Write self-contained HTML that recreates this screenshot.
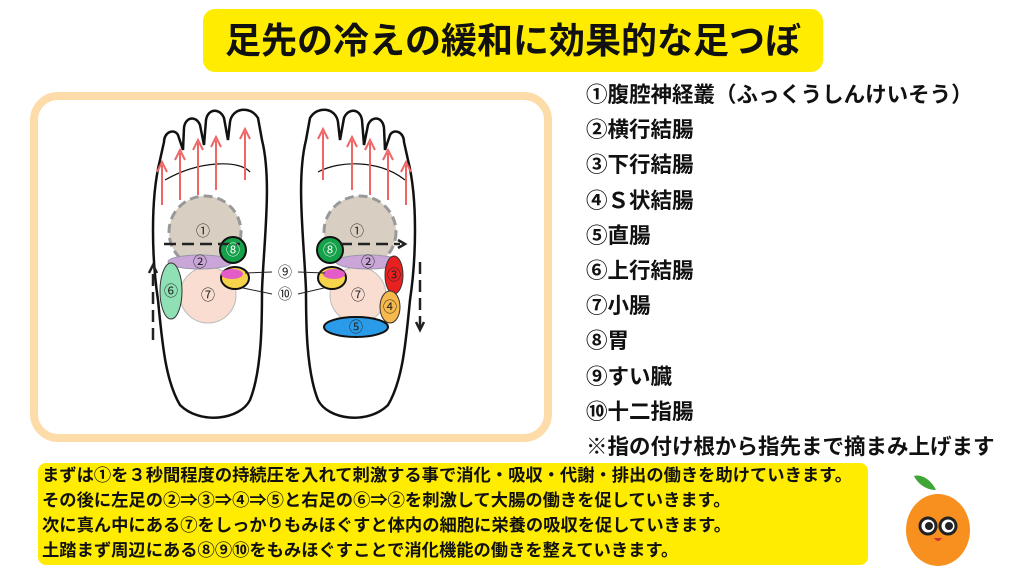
<!DOCTYPE html>
<html><head><meta charset="utf-8"><style>
body{margin:0;width:1024px;height:576px;background:#fff;position:relative;overflow:hidden;font-family:"Liberation Sans","Noto Sans CJK JP",sans-serif;font-weight:bold;color:#111}
.title{position:absolute;left:203px;top:9px;width:620px;height:63px;background:#ffec00;border-radius:12px;text-align:center;line-height:63px;font-size:36px;white-space:nowrap}
.panel{position:absolute;left:30px;top:92px;width:506px;height:334px;border:8px solid #fddcaa;border-radius:28px;background:#fff}
.list{position:absolute;left:586px;top:78px;font-size:21.5px;line-height:35.2px;white-space:nowrap}
.box{position:absolute;left:38px;top:463px;width:830px;height:102px;background:#ffec00;border-radius:8px;font-size:17.3px;line-height:25px;padding:0 0 0 4px;box-sizing:border-box;padding-top:0px;white-space:nowrap}
</style></head><body>
<div class="title">足先の冷えの緩和に効果的な足つぼ</div>
<div class="panel"></div>
<svg style="position:absolute;left:0;top:0" width="1024" height="576">
<g fill="#fff" stroke="#111" stroke-width="2.5">
<path d="M160,160 C150,200 152,260 158,300 C162,340 165,380 180,405 C200,425 240,420 250,400 C262,370 262,320 262,290 C264,240 272,180 262,140 L258,118 C250,105 232,108 230,122 L228,140 L224,118 C220,108 208,108 206,120 L204,145 L200,125 C196,115 185,117 184,128 L183,150 L178,135 C174,128 164,132 164,142 Z"/>
<path d="M408,160 C418,200 416,260 410,300 C406,340 403,380 388,405 C368,425 328,420 318,400 C306,370 306,320 306,290 C304,240 296,180 306,140 L310,118 C318,105 336,108 338,122 L340,140 L344,118 C348,108 360,108 362,120 L364,145 L368,125 C372,115 383,117 384,128 L385,150 L390,135 C394,128 404,132 404,142 Z"/>
</g>
<g fill="none" stroke="#111" stroke-width="1.2">
<path d="M165,180 C200,160 240,160 250,172"/><path d="M318,172 C340,160 380,160 405,180"/>
</g>
<g stroke="#e66" stroke-width="2" fill="none">
<path d="M162,205 V165 M157,172 L162,162 L167,172"/><path d="M180,200 V153 M175,160 L180,150 L185,160"/><path d="M198,195 V143 M193,150 L198,140 L203,150"/><path d="M216,190 V140 M211,147 L216,137 L221,147"/><path d="M245,180 V132 M240,139 L245,129 L250,139"/>
<path d="M323,180 V132 M318,139 L323,129 L328,139"/><path d="M352,190 V140 M347,147 L352,137 L357,147"/><path d="M370,195 V143 M365,150 L370,140 L375,150"/><path d="M388,200 V153 M383,160 L388,150 L393,160"/><path d="M406,205 V165 M401,172 L406,162 L411,172"/>
</g>
<circle cx="205" cy="232" r="36" fill="#d8cfc2" stroke="#999" stroke-width="3" stroke-dasharray="9 5"/>
<circle cx="360" cy="232" r="36" fill="#d8cfc2" stroke="#999" stroke-width="3" stroke-dasharray="9 5"/>
<circle cx="208" cy="295" r="28" fill="#f9ddd0" stroke="#bbb"/>
<circle cx="358" cy="295" r="28" fill="#f9ddd0" stroke="#bbb"/>
<ellipse cx="200" cy="262" rx="32" ry="7" fill="#c9a5d8" stroke="#99a"/>
<ellipse cx="368" cy="262" rx="32" ry="7" fill="#c9a5d8" stroke="#99a"/>
<ellipse cx="171" cy="291" rx="11" ry="28" fill="#8fe0b4" stroke="#333"/>
<ellipse cx="394" cy="275" rx="9" ry="19" fill="#e82020" stroke="#333"/>
<ellipse cx="390" cy="307" rx="10" ry="16" fill="#f8b94c" stroke="#333"/>
<ellipse cx="356" cy="327" rx="32" ry="10" fill="#2a9be8" stroke="#111" stroke-width="2"/>
<circle cx="233" cy="250" r="13" fill="#15a04a" stroke="#111" stroke-width="2"/>
<circle cx="330" cy="250" r="13" fill="#15a04a" stroke="#111" stroke-width="2"/>
<ellipse cx="235" cy="278" rx="14" ry="11" fill="#f5d34a" stroke="#111" stroke-width="2"/>
<ellipse cx="232" cy="274" rx="11" ry="5" fill="#e45cc8"/>
<ellipse cx="332" cy="278" rx="14" ry="11" fill="#f5d34a" stroke="#111" stroke-width="2"/>
<ellipse cx="334" cy="274" rx="11" ry="5" fill="#e45cc8"/>
<g stroke="#222" stroke-width="2.5" fill="none">
<path d="M164,244 H240" stroke-dasharray="12 6"/><path d="M340,244 H400" stroke-dasharray="12 6"/>
<path d="M398,240 L405,244 L398,248"/>
<path d="M153,340 V270" stroke-dasharray="12 6"/><path d="M149,273 L153,265 L157,273"/>
<path d="M420,262 V330" stroke-dasharray="12 6"/><path d="M416,322 L420,330 L424,322"/>
</g>
<g stroke="#222" stroke-width="1" fill="none">
<path d="M245,273 L272,272 M298,272 L325,273 M243,288 L272,294 M298,294 L324,288"/>
</g>
<g font-size="14" font-weight="normal" text-anchor="middle" fill="#222">
<text x="203" y="236">①</text><text x="357" y="236">①</text>
<text x="233" y="255" fill="#fff">⑧</text><text x="330" y="255" fill="#fff">⑧</text>
<text x="200" y="267">②</text><text x="368" y="267">②</text>
<text x="208" y="300">⑦</text><text x="358" y="300">⑦</text>
<text x="171" y="296">⑥</text><text x="394" y="280">③</text><text x="390" y="312">④</text><text x="356" y="332">⑤</text>
<text x="285" y="277">⑨</text><text x="285" y="299">⑩</text>
</g>
</svg>
<div class="list">①腹腔神経叢（ふっくうしんけいそう）<br>②横行結腸<br>③下行結腸<br>④Ｓ状結腸<br>⑤直腸<br>⑥上行結腸<br>⑦小腸<br>⑧胃<br>⑨すい臓<br>⑩十二指腸<br>※指の付け根から指先まで摘まみ上げます</div>
<div class="box">まずは①を３秒間程度の持続圧を入れて刺激する事で消化・吸収・代謝・排出の働きを助けていきます。<br>その後に左足の②⇒③⇒④⇒⑤と右足の⑥⇒②を刺激して大腸の働きを促していきます。<br>次に真ん中にある⑦をしっかりもみほぐすと体内の細胞に栄養の吸収を促していきます。<br>土踏まず周辺にある⑧⑨⑩をもみほぐすことで消化機能の働きを整えていきます。</div>
<svg style="position:absolute;left:900px;top:468px" width="80" height="100">
<path d="M36,22 C30,10 20,6 14,8 C18,16 26,22 36,22Z" fill="#3fa535"/>
<ellipse cx="38" cy="62" rx="32" ry="36" fill="#f7901e"/>
<circle cx="28" cy="58" r="8" fill="#fff" stroke="#222" stroke-width="3"/><circle cx="48" cy="58" r="8" fill="#fff" stroke="#222" stroke-width="3"/>
<circle cx="29" cy="58" r="4" fill="#222"/><circle cx="49" cy="58" r="4" fill="#222"/>
<path d="M34,70 Q38,76 42,70" fill="#c33"/>
</svg>
</body></html>
